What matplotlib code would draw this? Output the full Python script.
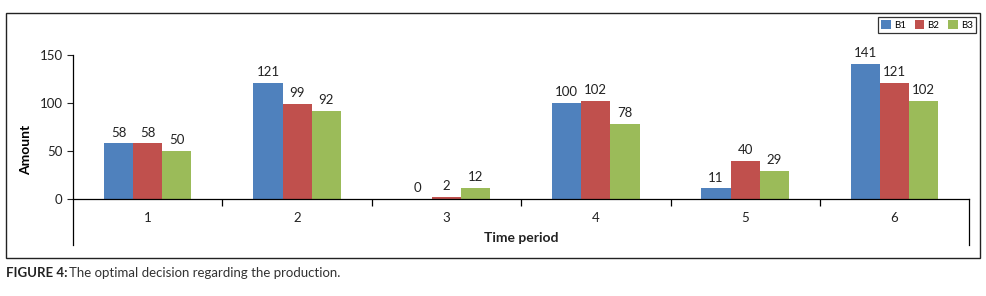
import numpy as np
import matplotlib.pyplot as plt
from matplotlib.patches import Rectangle

plt.rcParams['font.family'] = ['Lato', 'DejaVu Sans']

periods = ['1', '2', '3', '4', '5', '6']
b1 = [58, 121, 0, 100, 11, 141]
b2 = [58, 99, 2, 102, 40, 121]
b3 = [50, 92, 12, 78, 29, 102]
series = [('B1', b1, '#4F81BD'), ('B2', b2, '#C0504D'), ('B3', b3, '#9BBB59')]

fig = plt.figure(figsize=(9.87, 2.96), dpi=100)
ax = fig.add_axes([0.074, 0.172, 0.908, 0.642])

x = np.arange(len(periods))
w = 0.195
for i, (name, vals, col) in enumerate(series):
    pos = x + (i - 1) * w
    bars = ax.bar(pos, vals, w, color=col, label=name, edgecolor='none')
    for p, v in zip(pos, vals):
        ax.text(p, v + 5, str(v), ha='center', va='bottom', fontsize=9.5, color='#222222')

ax.set_xlim(-0.5, len(periods) - 0.5)
ax.set_ylim(-48, 150)
ax.set_yticks([0, 50, 100, 150])
ax.tick_params(axis='y', labelsize=9.5, length=4, width=0.8, colors='#222222')

ax.spines['top'].set_visible(False)
ax.spines['right'].set_visible(False)
ax.spines['bottom'].set_position(('data', 0))
ax.spines['bottom'].set_linewidth(0.9)
ax.spines['left'].set_linewidth(0.9)
# right closing line of the category area
ax.plot([len(periods) - 0.5] * 2, [-48, 0], color='black', lw=0.9, clip_on=False)

ax.set_xticks(x)
ax.set_xticklabels(periods)
ax.set_xticks(np.arange(0.5, len(periods) - 0.5), minor=True)
ax.tick_params(axis='x', which='major', length=0, pad=9, labelsize=9.5, colors='#222222')
ax.tick_params(axis='x', which='minor', length=5, width=0.9)

ax.set_ylabel('Amount', fontsize=10, fontweight='bold', labelpad=5)
ax.text((len(periods) - 1) / 2.0, -41, 'Time period', ha='center', va='center',
        fontsize=10, fontweight='bold', color='#222222')

leg = ax.legend(loc='upper right', bbox_to_anchor=(1.007, 1.2), ncol=3, fontsize=7,
                frameon=True, fancybox=False, handlelength=1.0, handleheight=1.0,
                handletextpad=0.3, columnspacing=0.9, borderpad=0.3, borderaxespad=0)
leg.get_frame().set_edgecolor('black')
leg.get_frame().set_linewidth(0.9)

# outer chart frame
fig.patches.append(Rectangle((6 / 987, 1 - 258 / 296), 974 / 987, 245 / 296,
                             transform=fig.transFigure, fill=False, edgecolor='#222222', lw=1.0))

fig.text(6 / 987, 1 - 273 / 296, 'FIGURE 4:', fontsize=9.5, fontweight='bold', color='#222222', va='center')
fig.text(69 / 987, 1 - 273 / 296, 'The optimal decision regarding the production.', fontsize=9.5,
         color='#333333', va='center')

fig.savefig('out.png', dpi=100)
